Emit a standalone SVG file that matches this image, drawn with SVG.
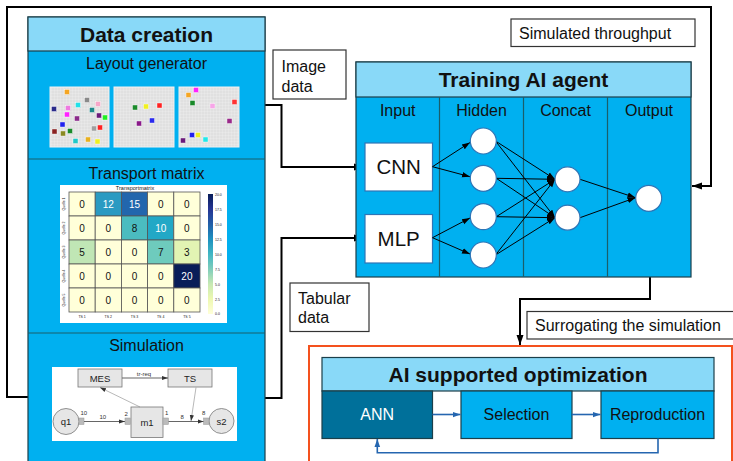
<svg xmlns="http://www.w3.org/2000/svg" width="733" height="461" viewBox="0 0 733 461">
<style>
text{font-family:"Liberation Sans",Arial,sans-serif;fill:#111}
.hdr{fill:#89d9f8;stroke:#1b3f4a;stroke-width:1.2}
.body{fill:#00b0f0;stroke:#1b3f4a;stroke-width:1.2}
.div{stroke:#1b5e6a;stroke-width:1.2}
.t16{font-size:16px}
.ttl{font-size:21px;font-weight:bold}
.lbox{fill:#fff;stroke:#333;stroke-width:1.2}
.conn{fill:none;stroke:#000;stroke-width:2}
.nn{fill:none;stroke:#000;stroke-width:1}
.neu{fill:#fff;stroke:#2e75b6;stroke-width:1.2}
.inbox{fill:#fff;stroke:#2e75b6;stroke-width:1.2}
.blue{fill:none;stroke:#2566b0;stroke-width:1.6}
.lay{fill:url(#grid);stroke:#f0f0f0;stroke-width:1}
.cell{stroke:#555;stroke-width:0.8}
.num{font-size:10px;text-anchor:middle}
.w{fill:#fff}
.tiny{font-size:3.5px;fill:#444}
.sbox{fill:#e6e6e6;stroke:#777;stroke-width:0.8}
.port{fill:#bbb;stroke:#999;stroke-width:0.5}
.sl{fill:none;stroke:#666;stroke-width:1.2}
.sl2{fill:none;stroke:#888;stroke-width:0.6}
.st{font-size:9.5px;text-anchor:middle;fill:#222}
.sn{font-size:6px;fill:#333}
</style>
<defs>
<pattern id="grid" width="3" height="3" patternUnits="userSpaceOnUse">
<rect width="3" height="3" fill="#e0e0e0"/>
<path d="M0,0H3M0,0V3" stroke="#f2f2f2" stroke-width="0.6"/>
</pattern>
<linearGradient id="cb" x1="0" y1="1" x2="0" y2="0">
<stop offset="0" stop-color="#ffffd9"/><stop offset="0.125" stop-color="#edf8b1"/><stop offset="0.25" stop-color="#c7e9b4"/><stop offset="0.375" stop-color="#7fcdbb"/><stop offset="0.5" stop-color="#41b6c4"/><stop offset="0.625" stop-color="#1d91c0"/><stop offset="0.75" stop-color="#225ea8"/><stop offset="0.875" stop-color="#253494"/><stop offset="1" stop-color="#081d58"/>
</linearGradient>
<marker id="ab" viewBox="0 0 10 10" refX="10" refY="5" markerWidth="10" markerHeight="10" markerUnits="userSpaceOnUse" orient="auto"><path d="M0,1.5L10,5L0,8.5z" fill="#000"/></marker>
<marker id="as" viewBox="0 0 10 10" refX="10" refY="5" markerWidth="8" markerHeight="8" markerUnits="userSpaceOnUse" orient="auto"><path d="M0,1.5L10,5L0,8.5z" fill="#000"/></marker>
<marker id="abl" viewBox="0 0 10 10" refX="10" refY="5" markerWidth="8" markerHeight="8" markerUnits="userSpaceOnUse" orient="auto"><path d="M0,1.5L10,5L0,8.5z" fill="#2566b0"/></marker>
<marker id="ag" viewBox="0 0 10 10" refX="10" refY="5" markerWidth="6" markerHeight="6" markerUnits="userSpaceOnUse" orient="auto"><path d="M0,1.5L10,5L0,8.5z" fill="#333"/></marker>
</defs>
<rect width="733" height="461" fill="#fff"/>

<g id="connectors">
<path class="conn" d="M28,397H7V7H711V186H692" marker-end="url(#ab)"/>
<path class="conn" d="M265,105H281.5V167H364" marker-end="url(#ab)"/>
<path class="conn" d="M265,398H281.5V238H364" marker-end="url(#ab)"/>
<path class="conn" d="M650,277V299H520V345" marker-end="url(#ab)"/>
</g>

<g id="data-creation">
<rect class="body" x="28" y="17" width="237" height="460"/>
<rect class="hdr" x="28" y="17" width="237" height="34"/>
<line class="div" x1="28" y1="159" x2="265" y2="159"/>
<line class="div" x1="28" y1="333" x2="265" y2="333"/>
<text class="ttl" x="146.5" y="41.5" text-anchor="middle">Data creation</text>
<text class="t16" x="146.5" y="69" text-anchor="middle">Layout generator</text>
<text class="t16" x="146.5" y="179" text-anchor="middle">Transport matrix</text>
<text class="t16" x="146.5" y="351" text-anchor="middle">Simulation</text>
</g>

<g id="layouts">
<rect class="lay" x="50" y="87" width="59" height="60"/>
<rect class="lay" x="114" y="87" width="60" height="60"/>
<rect class="lay" x="179" y="87" width="60" height="60"/>
<g stroke="#fff" stroke-width="0.4">
<rect x="64.5" y="89.5" width="5" height="5" fill="#f5a623"/>
<rect x="84.5" y="97.5" width="5" height="5" fill="#8a8a8a"/>
<rect x="95.5" y="101.5" width="5" height="5" fill="#f7a6c8"/>
<rect x="75.5" y="102.5" width="5" height="5" fill="#22e0e8"/>
<rect x="51.5" y="106.5" width="5" height="5" fill="#2a2a8a"/>
<rect x="65.5" y="105.5" width="5" height="5" fill="#ee7ae0"/>
<rect x="89.5" y="107.5" width="5" height="5" fill="#1d8a8a"/>
<rect x="64.5" y="112" width="5" height="5" fill="#ff22ff"/>
<rect x="96.5" y="113" width="5" height="5" fill="#6a1a7a"/>
<rect x="102.5" y="115" width="5" height="5" fill="#22ee22"/>
<rect x="74.5" y="116" width="5" height="5" fill="#8a2a8a"/>
<rect x="60" y="122" width="5" height="5" fill="#2222ee"/>
<rect x="91.5" y="126" width="5" height="5" fill="#a0a0a0"/>
<rect x="97.5" y="125" width="5" height="5" fill="#ff2222"/>
<rect x="52" y="129" width="5" height="5" fill="#8a2222"/>
<rect x="60.5" y="131" width="5" height="5" fill="#8a8a22"/>
<rect x="67.5" y="128.5" width="5" height="5" fill="#1a8a2a"/>
<rect x="73" y="138.5" width="5" height="5" fill="#22c8c8"/>
<rect x="85.5" y="137" width="5" height="5" fill="#e8b020"/>
<rect x="95" y="139" width="5" height="5" fill="#f0f022"/>
<rect x="132.5" y="105" width="5" height="5" fill="#1a8a2a"/>
<rect x="143.5" y="104" width="5" height="5" fill="#f0f022"/>
<rect x="157" y="103" width="5" height="5" fill="#ff2222"/>
<rect x="149.5" y="118" width="5" height="5" fill="#2a2aee"/>
<rect x="136.5" y="121" width="5" height="5" fill="#8a1a8a"/>
<rect x="193.5" y="87.5" width="5" height="5" fill="#ff22ff"/>
<rect x="186" y="92.5" width="5" height="5" fill="#f5a623"/>
<rect x="190" y="100.5" width="5" height="5" fill="#1a8a2a"/>
<rect x="210" y="103.5" width="5" height="5" fill="#f7a6e8"/>
<rect x="232" y="99.5" width="5" height="5" fill="#ff3333"/>
<rect x="227" y="118.5" width="5" height="5" fill="#9a2a8a"/>
<rect x="189.5" y="132.5" width="5" height="5" fill="#2222ee"/>
<rect x="195.5" y="132.5" width="5" height="5" fill="#f0f022"/>
<rect x="203" y="137" width="5" height="5" fill="#22e8e8"/>
<rect x="180.5" y="138" width="5" height="5" fill="#6a1a7a"/>
</g>
</g>

<g id="transport-matrix">
<rect x="60" y="185" width="167" height="138" fill="#fff"/>
<text x="135" y="190" font-size="5.5" text-anchor="middle" fill="#333">Transportmatrix</text>
<g class="cell">
<rect x="69" y="192" width="26.2" height="24" fill="#ffffd9"/>
<rect x="95.2" y="192" width="26.2" height="24" fill="#2a9ac2"/>
<rect x="121.4" y="192" width="26.2" height="24" fill="#2266ad"/>
<rect x="147.6" y="192" width="26.2" height="24" fill="#ffffd9"/>
<rect x="173.8" y="192" width="26.2" height="24" fill="#ffffd9"/>
<rect x="69" y="216" width="26.2" height="24" fill="#ffffd9"/>
<rect x="95.2" y="216" width="26.2" height="24" fill="#ffffd9"/>
<rect x="121.4" y="216" width="26.2" height="24" fill="#4bbcc0"/>
<rect x="147.6" y="216" width="26.2" height="24" fill="#22a8c6"/>
<rect x="173.8" y="216" width="26.2" height="24" fill="#ffffd9"/>
<rect x="69" y="240" width="26.2" height="24" fill="#c0e6b5"/>
<rect x="95.2" y="240" width="26.2" height="24" fill="#ffffd9"/>
<rect x="121.4" y="240" width="26.2" height="24" fill="#ffffd9"/>
<rect x="147.6" y="240" width="26.2" height="24" fill="#6ecbbd"/>
<rect x="173.8" y="240" width="26.2" height="24" fill="#e2f4b3"/>
<rect x="69" y="264" width="26.2" height="24" fill="#ffffd9"/>
<rect x="95.2" y="264" width="26.2" height="24" fill="#ffffd9"/>
<rect x="121.4" y="264" width="26.2" height="24" fill="#ffffd9"/>
<rect x="147.6" y="264" width="26.2" height="24" fill="#ffffd9"/>
<rect x="173.8" y="264" width="26.2" height="24" fill="#081d58"/>
<rect x="69" y="288" width="26.2" height="24" fill="#ffffd9"/>
<rect x="95.2" y="288" width="26.2" height="24" fill="#ffffd9"/>
<rect x="121.4" y="288" width="26.2" height="24" fill="#ffffd9"/>
<rect x="147.6" y="288" width="26.2" height="24" fill="#ffffd9"/>
<rect x="173.8" y="288" width="26.2" height="24" fill="#ffffd9"/>
</g>
<text class="num" x="82.1" y="207.5">0</text><text class="num w" x="108.3" y="207.5">12</text><text class="num w" x="134.5" y="207.5">15</text><text class="num" x="160.7" y="207.5">0</text><text class="num" x="186.9" y="207.5">0</text>
<text class="num" x="82.1" y="231.5">0</text><text class="num" x="108.3" y="231.5">0</text><text class="num" x="134.5" y="231.5">8</text><text class="num w" x="160.7" y="231.5">10</text><text class="num" x="186.9" y="231.5">0</text>
<text class="num" x="82.1" y="255.5">5</text><text class="num" x="108.3" y="255.5">0</text><text class="num" x="134.5" y="255.5">0</text><text class="num" x="160.7" y="255.5">7</text><text class="num" x="186.9" y="255.5">3</text>
<text class="num" x="82.1" y="279.5">0</text><text class="num" x="108.3" y="279.5">0</text><text class="num" x="134.5" y="279.5">0</text><text class="num" x="160.7" y="279.5">0</text><text class="num w" x="186.9" y="279.5">20</text>
<text class="num" x="82.1" y="303.5">0</text><text class="num" x="108.3" y="303.5">0</text><text class="num" x="134.5" y="303.5">0</text><text class="num" x="160.7" y="303.5">0</text><text class="num" x="186.9" y="303.5">0</text>
<g class="tiny" text-anchor="middle">
<text x="82.1" y="318">TS 1</text><text x="108.3" y="318">TS 2</text><text x="134.5" y="318">TS 3</text><text x="160.7" y="318">TS 4</text><text x="186.9" y="318">TS 5</text>
<text transform="translate(65,204) rotate(-90)">Quelle 1</text>
<text transform="translate(65,228) rotate(-90)">Quelle 2</text>
<text transform="translate(65,252) rotate(-90)">Quelle 3</text>
<text transform="translate(65,276) rotate(-90)">Quelle 4</text>
<text transform="translate(65,300) rotate(-90)">Quelle 5</text>
</g>
<rect x="208" y="194" width="5" height="120" fill="url(#cb)"/>
<g class="tiny">
<text x="215" y="195.5">20.0</text><text x="215" y="210.5">17.5</text><text x="215" y="225.5">15.0</text><text x="215" y="240.5">12.5</text><text x="215" y="255.5">10.0</text><text x="215" y="270.5">7.5</text><text x="215" y="285.5">5.0</text><text x="215" y="300.5">2.5</text><text x="215" y="315">0.0</text>
</g>
</g>

<g id="simulation">
<rect x="52" y="367" width="185" height="74" fill="#fff"/>
<rect class="sbox" x="78" y="369" width="44" height="18"/>
<rect class="sbox" x="168" y="369" width="44" height="18"/>
<text class="st" x="100" y="382">MES</text>
<text class="st" x="190" y="382">TS</text>
<line class="sl" x1="122" y1="378" x2="168" y2="378" marker-end="url(#ag)"/>
<text class="sn" x="144" y="375.5" text-anchor="middle">tr-req</text>
<circle cx="66" cy="421.5" r="13" fill="#e6e6e6" stroke="#777" stroke-width="0.8"/>
<text class="st" x="66" y="425">q1</text>
<rect class="sbox" x="131" y="407" width="32" height="30.5"/>
<text class="st" x="147" y="425.5">m1</text>
<circle cx="221.5" cy="421" r="12.5" fill="#e6e6e6" stroke="#777" stroke-width="0.8"/>
<text class="st" x="221.5" y="424.5">s2</text>
<rect class="port" x="79" y="418" width="5" height="6.5"/>
<rect class="port" x="125" y="418" width="5.5" height="6.5"/>
<rect class="port" x="163" y="418" width="5.5" height="6.5"/>
<rect class="port" x="203.5" y="418" width="5.5" height="6.5"/>
<line class="sl" x1="84" y1="421.5" x2="125" y2="421.5" marker-end="url(#ag)"/>
<line class="sl" x1="168.5" y1="421.5" x2="203.5" y2="421.5" marker-end="url(#ag)"/>
<line class="sl2" x1="140" y1="407" x2="100" y2="387.5" marker-end="url(#ag)"/>
<line class="sl2" x1="196" y1="387.5" x2="191" y2="421" marker-end="url(#ag)"/>
<text class="sn" x="80.5" y="415">10</text>
<text class="sn" x="99.5" y="419">10</text>
<text class="sn" x="124.5" y="416">2</text>
<text class="sn" x="165" y="415">1</text>
<text class="sn" x="180.5" y="419">8</text>
<text class="sn" x="202" y="415">8</text>
</g>

<g id="image-data">
<rect class="lbox" x="273" y="50" width="73" height="49"/>
<text class="t16" x="281.5" y="72">Image</text>
<text class="t16" x="281.5" y="92">data</text>
</g>

<g id="tabular-data">
<rect class="lbox" x="290" y="283" width="79" height="48.5"/>
<text class="t16" x="298" y="303.5">Tabular</text>
<text class="t16" x="298" y="323">data</text>
</g>

<g id="simulated-throughput">
<rect class="lbox" x="511" y="19" width="184" height="27.5"/>
<text class="t16" x="519" y="39">Simulated throughput</text>
</g>

<g id="surrogating">
<rect class="lbox" x="527" y="311.5" width="220" height="27.5"/>
<text class="t16" x="535" y="331">Surrogating the simulation</text>
</g>

<g id="training-agent">
<rect class="body" x="356" y="62" width="335" height="215"/>
<rect class="hdr" x="356" y="62" width="335" height="35"/>
<line class="div" x1="439.5" y1="97" x2="439.5" y2="277"/>
<line class="div" x1="523.5" y1="97" x2="523.5" y2="277"/>
<line class="div" x1="607.5" y1="97" x2="607.5" y2="277"/>
<text class="ttl" x="523.5" y="86.5" text-anchor="middle">Training AI agent</text>
<text class="t16" x="397.7" y="115.5" text-anchor="middle">Input</text>
<text class="t16" x="481.5" y="115.5" text-anchor="middle">Hidden</text>
<text class="t16" x="565.5" y="115.5" text-anchor="middle">Concat</text>
<text class="t16" x="649" y="115.5" text-anchor="middle">Output</text>
<rect class="inbox" x="365" y="143" width="67.5" height="48"/>
<text x="398.7" y="174.3" font-size="20.5" text-anchor="middle">CNN</text>
<rect class="inbox" x="365" y="214.5" width="67.5" height="48.5"/>
<text x="398.7" y="246" font-size="20.5" text-anchor="middle">MLP</text>
<g id="nn-edges">
<line class="nn" x1="432.5" y1="166.7" x2="470" y2="142.5" marker-end="url(#as)"/>
<line class="nn" x1="432.5" y1="166.7" x2="470" y2="176.7" marker-end="url(#as)"/>
<line class="nn" x1="432.5" y1="237.7" x2="470" y2="218" marker-end="url(#as)"/>
<line class="nn" x1="432.5" y1="237.7" x2="470" y2="254" marker-end="url(#as)"/>
<line class="nn" x1="495.5" y1="141" x2="555" y2="179.3" marker-end="url(#as)"/>
<line class="nn" x1="495.5" y1="141" x2="555" y2="217.7" marker-end="url(#as)"/>
<line class="nn" x1="496.3" y1="178.3" x2="555" y2="179.3" marker-end="url(#as)"/>
<line class="nn" x1="496.3" y1="178.3" x2="555" y2="217.7" marker-end="url(#as)"/>
<line class="nn" x1="496.3" y1="216.7" x2="555" y2="179.3" marker-end="url(#as)"/>
<line class="nn" x1="496.3" y1="216.7" x2="555" y2="217.7" marker-end="url(#as)"/>
<line class="nn" x1="495.5" y1="255" x2="555" y2="179.3" marker-end="url(#as)"/>
<line class="nn" x1="495.5" y1="255" x2="555" y2="217.7" marker-end="url(#as)"/>
<line class="nn" x1="580" y1="179.3" x2="635.5" y2="197.7" marker-end="url(#as)"/>
<line class="nn" x1="580" y1="217.7" x2="635.5" y2="197.7" marker-end="url(#as)"/>
</g>
<circle class="neu" cx="483.3" cy="141" r="13"/>
<circle class="neu" cx="483.3" cy="178.3" r="13"/>
<circle class="neu" cx="483.3" cy="216.7" r="13"/>
<circle class="neu" cx="483.3" cy="255" r="13"/>
<circle class="neu" cx="567.5" cy="179.3" r="12.5"/>
<circle class="neu" cx="567.5" cy="217.7" r="12.5"/>
<circle class="neu" cx="648.7" cy="198.3" r="13"/>
</g>

<g id="ai-optimization">
<rect x="309" y="346" width="423" height="130" fill="#fff" stroke="#f4511e" stroke-width="2"/>
<rect class="hdr" x="322" y="357.5" width="392" height="33.5"/>
<text class="ttl" x="518" y="382.3" text-anchor="middle">AI supported optimization</text>
<g id="ann">
<rect x="322" y="391" width="110.5" height="47.5" fill="#00709a" stroke="#1b3f4a" stroke-width="1.2"/>
<text class="t16 w" x="377.2" y="420" font-size="15.5" text-anchor="middle">ANN</text>
</g>
<g id="selection">
<rect class="body" x="461" y="391" width="111" height="47.5"/>
<text class="t16" x="516.5" y="420" text-anchor="middle">Selection</text>
</g>
<g id="reproduction">
<rect class="body" x="601" y="391" width="113" height="47.5"/>
<text class="t16" x="657.5" y="420" text-anchor="middle">Reproduction</text>
</g>
<g id="opt-connectors">
<line class="blue" x1="432.5" y1="414.5" x2="460.5" y2="414.5" marker-end="url(#abl)"/>
<line class="blue" x1="572" y1="414.5" x2="600.5" y2="414.5" marker-end="url(#abl)"/>
<path class="blue" d="M658,438.5V452.7H377.3V439" marker-end="url(#abl)"/>
</g>
</g>
</svg>
